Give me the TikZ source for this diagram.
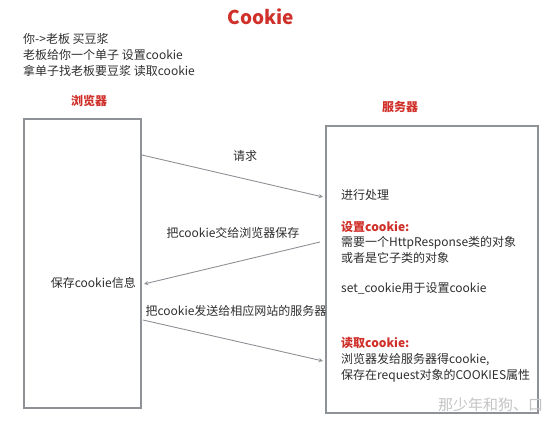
\documentclass[tikz,border=0pt]{standalone}
\usepackage{fontspec}
\setmainfont{Noto Sans CJK SC}
\usetikzlibrary{positioning,arrows}
\definecolor{ink}   {HTML}{2E2E2E}
\definecolor{accent}{HTML}{D0302A}
\definecolor{frame} {HTML}{8E9196}
\definecolor{faint} {HTML}{C4C4C4}
\tikzset{
  >=stealth,
  every node/.style={font=\fontsize{12}{16}\selectfont, text=ink, inner sep=0pt},
  % --- nodes
  side/.style  = {draw=frame, line width=1.3pt, fill=white},
  txt/.style   = {anchor=west, align=left},
  head/.style  = {font=\fontsize{12}{16}\selectfont\bfseries, text=accent},
  title/.style = {font=\fontsize{19}{22}\selectfont\bfseries, text=accent},
  wm/.style    = {font=\fontsize{15}{18}\selectfont, text=faint, anchor=west},
  % --- edges
  e/.style     = {-stealth, line width=0.9pt, draw=frame},
}
\begin{document}
\begin{tikzpicture}[x=1pt,y=-1pt]
  \useasboundingbox (0,0) rectangle (554,423);
  \node[title] (ttl) at (261,17) {Cookie};
  \node[txt] (story) at (23,55) {你->老板 买豆浆\\老板给你一个单子 设置cookie\\拿单子找老板要豆浆 读取cookie};

  % --- the two sides
  \node[head] (bname) at (89,101) {浏览器};
  \node[head] (sname) at (400,107) {服务器};
  \node[side, minimum width=117pt, minimum height=289pt] (browser) at (82.5,263.5) {};
  \node[side, minimum width=212pt, minimum height=287pt] (server) at (432,269.5) {};

  \node[anchor=east] (keep) at (136,283) {保存cookie信息};

  \node[txt] (proc) at (341,195) {进行处理};
  \node[txt, head] (sethd) at (341,227) {设置cookie:};
  \node[txt] (set1) at (341,243) {需要一个HttpResponse类的对象};
  \node[txt] (set2) at (341,258) {或者是它子类的对象};
  \node[txt] (set3) at (341,288) {set\_cookie用于设置cookie};
  \node[txt, head] (gethd) at (341,343) {读取cookie:};
  \node[txt] (get1) at (341,368) {浏览器发给服务器得cookie,\\保存在request对象的COOKIES属性};

  % --- messages
  \coordinate (req-s) at (142,155);  \coordinate (req-e) at (323,197);
  \coordinate (ret-s) at (320,242);  \coordinate (ret-e) at (144,284);
  \coordinate (snd-s) at (143,320);  \coordinate (snd-e) at (323,361);
  \draw[e] (req-s) -- (req-e);
  \draw[e] (ret-s) -- (ret-e);
  \draw[e] (snd-s) -- (snd-e);
  \node (reqlbl) at (245,156) {请求};
  \node (retlbl) at (233,233) {把cookie交给浏览器保存};
  \node (sndlbl) at (236,311) {把cookie发送给相应网站的服务器};

  \node[wm] (sig) at (438,405) {那少年和狗、口};
\end{tikzpicture}
\end{document}
